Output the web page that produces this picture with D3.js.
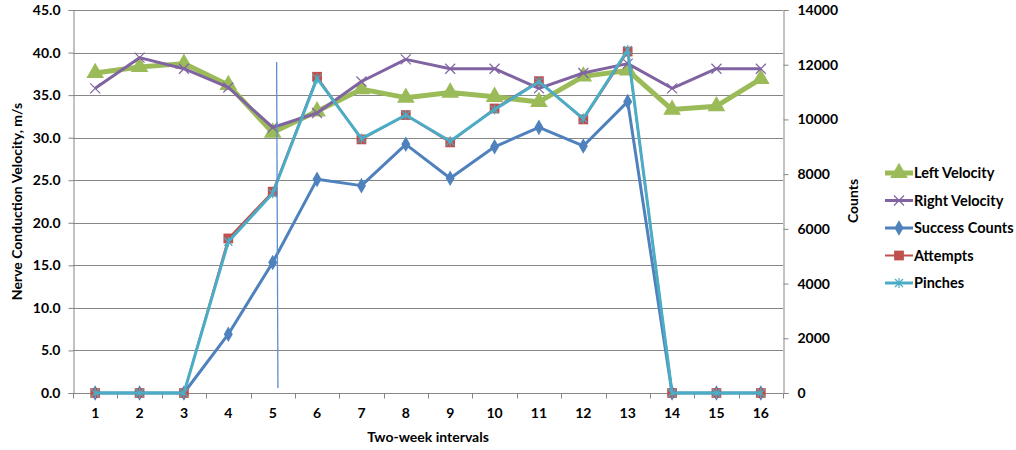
<!DOCTYPE html>
<html>
<head>
<meta charset="utf-8">
<script src="https://cdn.jsdelivr.net/npm/d3@7"></script>
<style>
  html, body { margin: 0; padding: 0; background: #fff; }
  svg text { font-family: Lato, "Open Sans", sans-serif; font-weight: bold; fill: #000; }
</style>
</head>
<body>
<svg id="chart" width="1016" height="450"></svg>
<script>
// Two-week intervals
const intervals = [1, 2, 3, 4, 5, 6, 7, 8, 9, 10, 11, 12, 13, 14, 15, 16];

// Nerve conduction velocity (m/s), primary axis
const leftVelocity  = [37.6, 38.3, 38.7, 36.2, 30.6, 33.1, 35.7, 34.7, 35.3, 34.8, 34.2, 37.2, 37.9, 33.3, 33.7, 36.9];
const rightVelocity = [35.8, 39.4, 38.1, 35.9, 31.2, 32.9, 36.6, 39.2, 38.1, 38.1, 35.8, 37.6, 38.7, 35.8, 38.1, 38.1];

// Counts, secondary axis
const successCounts = [0, 0, 0, 2150, 4770, 7810, 7580, 9090, 7850, 9000, 9710, 9030, 10650, 0, 0, 0];
const attempts      = [0, 0, 0, 5650, 7360, 11560, 9270, 10160, 9160, 10400, 11400, 10000, 12480, 0, 0, 0];
const pinches       = [0, 0, 0, 5530, 7300, 11500, 9300, 10160, 9200, 10360, 11380, 10030, 12540, 0, 0, 0];

// Axis ticks
const velocityTicks = [0, 5, 10, 15, 20, 25, 30, 35, 40, 45];
const countTicks    = [0, 2000, 4000, 6000, 8000, 10000, 12000, 14000];

// Marker line drawn just after interval 5 (interval position, velocity range)
const markerLine = { x: 5.1, from: 38.9, to: 0.6 };

const svg = d3.select("#chart");
const plot = { left: 73, right: 783, top: 10, bottom: 393 };

const x  = d3.scaleLinear().domain([0.5, 16.5]).range([plot.left, plot.right]);
const yL = d3.scaleLinear().domain([0, 45]).range([plot.bottom, plot.top]);
const yR = d3.scaleLinear().domain([0, 14000]).range([plot.bottom, plot.top]);

const axisGray = "#868686";

// Horizontal gridlines (primary axis)
svg.append("g").selectAll("line").data(velocityTicks.filter(v => v > 0)).join("line")
  .attr("x1", plot.left).attr("x2", plot.right)
  .attr("y1", d => Math.round(yL(d)) + 0.5).attr("y2", d => Math.round(yL(d)) + 0.5)
  .attr("stroke", axisGray).attr("stroke-width", 1);

// Left axis
const gL = svg.append("g").attr("transform", `translate(${plot.left + 0.5},0)`)
  .call(d3.axisLeft(yL).tickValues(velocityTicks).tickFormat(d3.format(".1f")).tickSize(5).tickPadding(8));
// Right axis
const gR = svg.append("g").attr("transform", `translate(${plot.right + 0.5},0)`)
  .call(d3.axisRight(yR).tickValues(countTicks).tickFormat(d3.format("d")).tickSize(5).tickPadding(9));
// Bottom axis: tick marks between categories, labels under categories
const boundaries = d3.range(0.5, 16.6, 1);
const gB = svg.append("g").attr("transform", `translate(0,${plot.bottom + 0.5})`);
gB.append("line").attr("x1", plot.left).attr("x2", plot.right).attr("stroke", axisGray);
gB.selectAll("line.tk").data(boundaries).join("line").attr("class", "tk")
  .attr("x1", d => Math.round(x(d)) + 0.5).attr("x2", d => Math.round(x(d)) + 0.5)
  .attr("y1", 0).attr("y2", 5).attr("stroke", axisGray);
gB.selectAll("text").data(intervals).join("text")
  .attr("x", d => x(d)).attr("y", 24).attr("text-anchor", "middle")
  .style("font-size", "14px").text(d => d);

[gL, gR].forEach(g => {
  g.select(".domain").attr("stroke", axisGray);
  g.selectAll(".tick line").attr("stroke", axisGray);
  g.selectAll(".tick text").style("font-size", "14px").attr("fill", "#000");
});

// Axis titles
svg.append("text").attr("transform", `translate(22,${(plot.top + plot.bottom) / 2}) rotate(-90)`)
  .attr("text-anchor", "middle").style("font-size", "14px").text("Nerve Conduction Velocity, m/s");
svg.append("text").attr("transform", `translate(858,201) rotate(-90)`)
  .attr("text-anchor", "middle").style("font-size", "14px").text("Counts");
svg.append("text").attr("x", (plot.left + plot.right) / 2).attr("y", 442)
  .attr("text-anchor", "middle").style("font-size", "14px").text("Two-week intervals");

// Marker shapes
const xMark = s => `M${-s},${-s}L${s},${s}M${-s},${s}L${s},${-s}`;
const starMark = s => `${xMark(s * 0.8)}M0,${-s}L0,${s}`;

const series = [
  { name: "Left Velocity", values: leftVelocity, y: yL, color: "#9bbb59", width: 5,
    marker: { type: "sym", sym: d3.symbolTriangle, size: 135, fill: "#9bbb59" } },
  { name: "Right Velocity", values: rightVelocity, y: yL, color: "#8064a2", width: 3,
    marker: { type: "path", path: xMark(5), stroke: "#8064a2", sw: 1.2 } },
  { name: "Success Counts", values: successCounts, y: yR, color: "#4f81bd", width: 3,
    marker: { type: "sym", sym: d3.symbolDiamond, size: 70, fill: "#4f81bd" } },
  { name: "Attempts", values: attempts, y: yR, color: "#c0504d", width: 2,
    marker: { type: "sym", sym: d3.symbolSquare, size: 95, fill: "#c0504d" } },
  { name: "Pinches", values: pinches, y: yR, color: "#4bacc6", width: 3,
    marker: { type: "path", path: starMark(5), stroke: "#4bacc6", sw: 1.2 } }
];

function drawMarker(g, m) {
  if (m.type === "sym") {
    g.append("path").attr("d", d3.symbol(m.sym, m.size)()).attr("fill", m.fill);
  } else {
    g.append("path").attr("d", m.path).attr("fill", "none").attr("stroke", m.stroke).attr("stroke-width", m.sw);
  }
}

series.forEach(s => {
  const line = d3.line().x((d, i) => x(intervals[i])).y(d => s.y(d));
  svg.append("path").datum(s.values).attr("d", line)
    .attr("fill", "none").attr("stroke", s.color).attr("stroke-width", s.width)
    .attr("stroke-linejoin", "round");
  s.values.forEach((v, i) => {
    const g = svg.append("g").attr("transform", `translate(${x(intervals[i])},${s.y(v)})`);
    drawMarker(g, s.marker);
  });
});

// Vertical marker line
svg.append("line")
  .attr("x1", x(markerLine.x) - 0.5).attr("x2", x(markerLine.x) + 0.8)
  .attr("y1", yL(markerLine.from)).attr("y2", yL(markerLine.to))
  .attr("stroke", "#5b8fd0").attr("stroke-width", 1.3);

// Legend
const legend = svg.append("g").attr("transform", "translate(885,173)");
series.forEach((s, i) => {
  const g = legend.append("g").attr("transform", `translate(0,${i * 27.5})`);
  g.append("line").attr("x1", 0).attr("x2", 28).attr("stroke", s.color).attr("stroke-width", s.width);
  const mg = g.append("g").attr("transform", "translate(14,0)");
  drawMarker(mg, s.marker);
  g.append("text").attr("x", 29).attr("y", 5).style("font-size", "14.5px").text(s.name);
});
</script>
</body>
</html>
